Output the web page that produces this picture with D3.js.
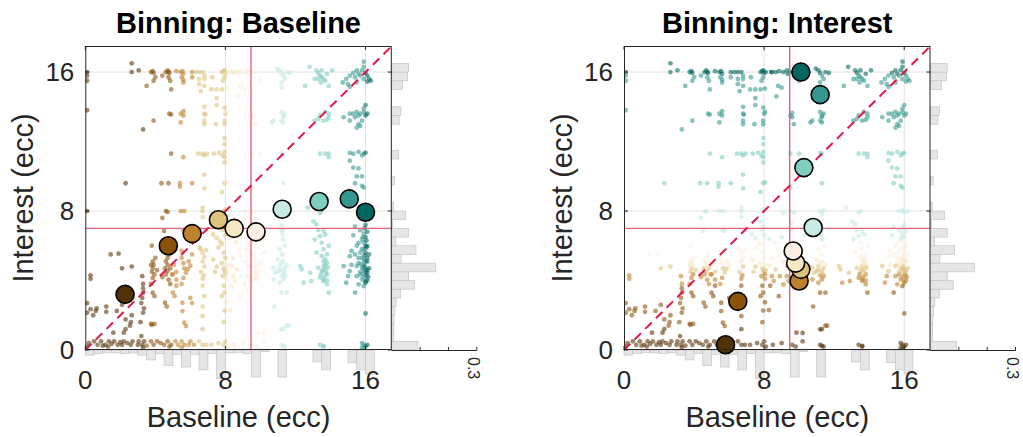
<!DOCTYPE html>
<html>
<head>
<meta charset="utf-8">
<script src="https://cdn.jsdelivr.net/npm/d3@7"></script>
<style>
  body { margin: 0; background: #fff; }
  svg { display: block; }
  text { font-family: "Liberation Sans", Arial, Helvetica, sans-serif; fill: #262626; }
</style>
</head>
<body>
<svg id="chart" width="1023" height="437"></svg>
<script>
// ---- axis setup ----
const axisMax = 17.5;
const tickValues = [0, 8, 16];
const histBinWidth = 0.5;
const histTicks = [0.1, 0.2, 0.3];
const histMax = 0.3;

// proportion of trials per 0.5-ecc bin (marginal histograms)
const baselineHist = [0.018, 0.012, 0.008, 0.010, 0.012, 0.010, 0.018, 0.035, 0.012, 0.055,
                      0.015, 0.060, 0.015, 0.070, 0.012, 0.100, 0.010, 0.008, 0.012, 0.095,
                      0.005, 0.000, 0.095, 0.000, 0.000, 0.000, 0.042, 0.070, 0.000, 0.000,
                      0.045, 0.070, 0.085, 0.000, 0.000];
const interestHist = [0.092, 0.007, 0.007, 0.008, 0.011, 0.015, 0.031, 0.080, 0.059, 0.155,
                      0.033, 0.085, 0.014, 0.059, 0.003, 0.049, 0.006, 0.000, 0.000, 0.009,
                      0.000, 0.000, 0.024, 0.000, 0.000, 0.000, 0.026, 0.032, 0.000, 0.000,
                      0.038, 0.056, 0.059, 0.000, 0.000];

// per-trial eccentricities: [baseline, interest]
const trials = [
  // interest around 16
  [0.1,16.0],[0.1,15.8],[0.1,15.5],[2.65,16.5],[2.65,16.0],[3.05,16.1],[3.5,15.2],[3.75,16.0],[3.85,16.05],[3.9,15.95],
  [3.9,15.5],[4.0,15.7],[4.4,15.8],[4.6,16.0],[4.7,16.1],[4.75,16.0],[4.8,15.95],[4.75,15.7],[4.85,15.5],[4.9,15.0],
  [5.2,16.05],[5.45,16.0],[5.55,16.05],[5.6,15.9],[5.5,15.7],[5.6,15.55],[5.6,15.4],[6.1,16.0],[6.3,16.0],[6.5,16.0],
  [6.7,16.0],[6.1,15.7],[6.5,15.6],[6.5,15.3],[6.6,14.9],[6.8,15.8],[6.8,15.6],[6.8,15.2],[7.25,15.7],[7.2,15.0],
  [7.5,15.0],[7.5,14.5],[7.5,14.1],[7.8,16.0],[7.9,16.05],[7.95,16.1],[8.0,15.95],[8.1,16.0],[7.95,15.7],[7.85,15.5],
  [7.8,15.0],[8.05,15.05],[8.4,16.0],[8.45,16.0],[8.65,16.0],[8.85,16.05],[9.1,16.0],[9.3,16.1],[9.35,15.9],[9.5,16.0],
  [10.0,15.5],[8.8,15.2],[9.0,15.1],[8.7,14.6],[10.95,16.2],[11.1,16.1],[11.2,15.95],[11.3,15.8],[11.5,16.0],[11.4,15.6],
  [11.2,15.4],[11.2,15.1],[11.7,15.95],[12.8,16.3],[12.55,15.2],[13.2,16.1],[13.3,15.95],[13.4,15.8],[13.5,15.7],[13.6,15.6],
  [13.7,15.5],[13.5,16.1],[13.8,15.9],[14.1,16.1],[13.3,15.6],[13.1,15.6],[13.9,15.2],[13.45,15.4],[14.7,15.4],[14.9,15.6],
  [15.1,15.8],[15.3,15.95],[15.5,16.1],[15.6,15.9],[15.7,15.8],[15.8,16.1],[15.9,16.3],[16.0,15.95],[16.1,15.8],[16.2,15.6],
  [15.9,15.6],[15.5,15.4],[15.1,15.15],[15.0,15.3],[15.4,15.7],[16.1,15.45],[16.3,15.5],[15.9,16.6],[16.0,14.1],
  // interest around 13.5
  [0.1,13.8],[3.9,13.2],[3.3,12.7],[4.8,13.6],[4.9,13.55],[5.45,13.6],[5.6,13.5],[5.45,13.1],[5.6,13.75],[6.8,14.0],
  [6.8,13.6],[6.85,13.55],[6.8,13.2],[6.8,13.0],[7.45,13.0],[7.95,13.95],[8.0,13.6],[7.95,13.2],[7.95,13.0],[8.05,13.7],
  [9.6,13.65],[9.6,13.4],[9.5,13.5],[9.7,13.0],[10.65,13.1],[10.75,13.2],[11.2,13.7],[11.3,13.5],[11.3,13.4],[11.4,13.6],
  [11.2,13.2],[11.3,13.1],[13.1,13.2],[13.3,13.3],[13.4,13.5],[13.7,13.7],[13.9,13.6],[13.9,13.4],[13.6,13.2],[13.8,13.25],
  [15.1,13.2],[15.3,13.6],[15.5,13.7],[15.6,13.5],[15.7,13.6],[15.9,13.7],[16.0,13.5],[16.1,13.6],[15.8,13.2],[15.6,13.0],
  [15.5,12.8],[15.7,12.9],[15.9,13.9],[15.1,13.6],[15.4,13.4],[14.75,13.4],
  // interest around 11.3 and 9.6
  [4.9,11.3],[5.6,11.1],[6.45,11.3],[6.7,11.3],[6.8,11.2],[6.95,11.3],[7.35,11.3],[7.65,11.35],[7.85,11.2],[7.95,11.4],
  [7.95,11.1],[7.95,10.8],[7.95,11.85],[7.95,12.2],[6.8,10.1],[9.5,11.3],[10.0,11.3],[11.2,11.35],[11.3,11.3],[13.4,11.3],
  [13.7,11.3],[13.9,11.3],[13.9,11.1],[15.1,11.35],[15.3,11.3],[15.9,11.3],[16.0,11.35],[15.8,11.2],[15.6,11.4],[15.1,10.9],
  [15.3,10.5],[15.6,10.45],[15.5,10.0],[15.8,10.0],[15.4,9.6],[15.8,9.45],[15.9,9.35],
  [2.3,9.6],[4.35,9.6],[4.75,9.6],[5.4,9.6],[5.4,9.4],[6.1,9.6],[6.8,9.3],[7.95,9.6],[8.05,9.65],[7.8,9.1],
  [9.5,9.35],[11.3,9.6],
  // interest around 8 and 7
  [0.1,8.0],[4.6,8.0],[4.7,7.95],[5.45,8.0],[5.65,8.0],[6.7,8.0],[4.4,7.6],[6.7,7.65],[6.7,8.2],[7.9,8.0],
  [8.0,8.1],[9.1,7.9],[9.5,8.0],[9.7,7.9],[11.2,8.0],[11.3,7.8],[11.4,8.05],[12.7,8.2],[13.5,8.0],[13.4,7.9],
  [15.7,8.0],[15.9,8.05],[16.0,7.9],[16.2,8.0],[7.4,7.4],[7.8,7.4],[7.95,7.1],[7.85,6.9],[9.56,7.33],[9.56,6.95],
  [11.2,7.2],[11.3,6.9],[13.03,7.4],[13.2,7.23],[15.4,7.1],[15.7,6.9],
  // low baseline, dark brown
  [0.3,4.1],[0.3,4.3],[0.1,2.7],[0.3,2.35],[0.1,2.15],[0.6,2.25],[1.2,2.5],[1.2,2.2],[1.45,5.5],[1.8,2.25],
  [2.1,2.6],[2.3,1.76],[2.6,1.6],[1.6,1.0],[2.2,1.0],[2.3,1.2],[2.1,4.7],[2.65,4.8],[3.2,0.8],[1.9,5.55],
  [0.65,2.4],[0.45,2.0],[2.65,2.0],[2.55,1.4],[3.8,1.45],
  [3.25,4.25],[3.3,3.8],[3.3,3.3],[3.2,2.7],[3.35,2.4],[3.3,2.15],[3.15,1.6],[3.3,3.55],[3.25,3.0],
  // baseline 3.8 - 5.2
  [3.85,5.1],[3.9,4.9],[3.85,4.7],[3.8,4.5],[3.95,4.35],[3.85,4.15],[3.75,4.9],[3.85,3.3],[3.75,3.8],[3.95,3.1],
  [3.75,1.5],[3.95,1.5],[3.8,6.0],[4.0,5.3],[4.1,4.6],[4.6,5.1],[4.7,4.9],[4.85,4.7],[4.7,4.55],[4.6,4.35],
  [4.95,4.35],[4.75,4.05],[4.85,3.8],[4.55,2.72],[4.65,2.5],[4.5,6.85],[4.7,5.3],[4.8,5.5],[4.55,4.7],[4.4,4.2],
  [5.07,4.9],[5.2,4.5],[5.0,4.35],[5.2,4.05],[5.0,3.3],[5.1,3.1],[5.2,3.7],
  // baseline 5.5 - 6.9
  [5.5,5.3],[5.6,5.0],[5.65,4.7],[5.75,4.45],[5.6,4.15],[5.5,3.8],[5.9,5.1],[6.0,4.85],[5.85,4.65],[5.55,2.72],
  [5.55,2.24],[5.65,1.57],[5.75,1.38],[6.0,3.0],[6.1,2.7],[5.6,6.9],[5.75,6.85],[5.5,5.7],[6.1,5.5],
  [6.6,5.8],[6.7,5.6],[6.8,5.35],[6.7,5.1],[6.8,4.8],[6.6,4.5],[6.7,4.1],[6.7,3.7],[6.8,3.1],[6.7,2.5],
  [6.7,1.95],[6.7,1.2],[6.5,5.9],[6.9,5.75],[6.75,4.3],
  // baseline 7.3 - 8.5
  [7.3,6.65],[7.5,6.45],[7.7,6.25],[7.6,5.9],[7.8,6.1],[7.3,5.2],[7.5,4.8],[7.4,4.5],
  [7.8,5.0],[7.9,4.7],[8.0,4.45],[8.05,4.1],[7.9,3.7],[7.8,3.1],[8.05,2.75],[7.95,2.27],[7.9,1.6],[8.0,5.3],
  [7.9,5.6],[8.1,4.9],[8.0,6.6],[7.95,3.3],[8.35,4.85],[8.45,4.25],[8.35,3.7],
  [7.95,4.55],[8.05,4.35],[7.85,4.25],[8.1,4.6],
  // baseline 8.3 - 10.3
  [8.46,5.3],[8.84,5.4],[9.1,5.1],[9.3,4.83],[9.6,4.73],[9.7,4.44],[9.8,4.06],[9.4,3.97],[9.1,3.77],[8.65,4.64],
  [8.9,4.25],[9.2,5.8],[9.6,5.5],[8.55,3.97],[9.7,5.1],[9.8,4.83],[9.3,4.25],[8.84,3.1],[8.27,2.3],[9.5,6.2],
  [9.7,6.0],[9.9,5.9],[9.6,5.3],[10.0,5.0],[9.9,4.6],[9.6,4.1],[9.8,4.3],[10.1,6.3],[10.2,5.6],[9.5,4.9],
  [8.3,6.4],[8.6,6.2],[9.0,6.5],[9.3,6.1],[8.8,5.8],[9.5,5.6],[10.3,6.6],[9.75,4.5],[9.65,4.2],
  // baseline around 11.2
  [11.25,6.65],[11.3,6.36],[11.1,5.8],[11.25,5.5],[11.3,5.1],[11.1,4.83],[11.4,4.73],[11.3,4.54],[11.0,4.54],[10.75,4.73],
  [10.84,4.44],[11.4,4.25],[11.3,4.06],[11.1,3.87],[11.2,3.3],[11.5,3.3],[10.75,4.06],[11.6,1.4],[11.2,1.19],[11.3,0.23],
  [11.2,6.9],[11.4,6.0],[11.0,5.2],[11.5,4.9],[11.2,4.3],[10.8,2.5],[11.5,1.4],[11.3,1.2],[10.2,0.98],[9.85,1.0],
  [11.1,4.6],[11.35,4.4],[11.2,5.0],
  // baseline around 13.5
  [13.6,6.85],[13.7,6.65],[13.4,6.55],[13.1,6.36],[13.5,6.17],[13.6,5.79],[13.2,5.6],[13.5,5.4],[13.7,5.21],[13.8,5.02],
  [13.6,4.83],[13.3,4.73],[13.7,4.64],[13.8,4.35],[13.4,4.16],[13.6,3.97],[13.8,3.78],[13.9,3.3],[12.27,4.83],[12.36,4.64],
  [12.84,4.44],[12.9,3.97],[12.46,3.87],[13.6,0.23],[13.7,4.9],[13.5,4.5],[13.65,4.2],[13.8,5.5],[13.9,6.0],[13.3,6.9],
  [13.8,4.0],[13.6,5.1],[13.55,4.6],[13.75,4.45],[13.45,4.35],[13.85,4.75],[13.6,4.05],
  // baseline around 16
  [15.9,6.7],[16.0,6.5],[15.8,6.36],[15.6,6.17],[16.1,5.98],[15.9,5.79],[15.7,5.6],[15.4,5.5],[15.1,5.4],[15.2,5.7],
  [15.8,5.3],[16.0,5.1],[15.6,5.0],[15.5,4.83],[15.8,4.73],[16.0,4.64],[16.1,4.44],[15.7,4.35],[15.5,4.25],[15.8,4.06],
  [16.0,3.87],[15.6,3.78],[15.9,3.68],[15.4,3.3],[14.75,4.83],[14.9,3.87],[15.1,4.54],[15.0,4.25],[16.2,5.5],[16.0,2.1],
  [16.0,7.2],[16.1,6.8],[15.9,6.2],[16.0,5.6],[16.1,5.3],[15.9,4.9],[16.0,4.5],[15.9,4.2],[16.1,4.0],[15.95,4.8],
  [16.05,5.9],[15.85,6.5],[16.2,4.7],[15.7,4.5],[15.6,5.3],[15.5,6.0],[15.3,6.6],[15.2,4.9],[16.15,4.2],[15.9,5.2],
  [16.0,6.0],[16.1,4.6],[15.8,5.8],[15.95,7.0],[15.85,4.4],[16.05,4.3],[15.95,5.45],[16.1,5.1],[15.75,4.95],[16.0,3.95],
  [15.9,4.65],[16.05,6.3],
  // interest near 0
  [0.1,0.2],[0.2,0.4],[0.5,0.5],[0.9,0.5],[1.15,0.3],[1.35,0.5],[1.65,0.5],[1.85,0.3],[2.1,0.3],[2.2,0.5],
  [2.6,0.3],[2.7,0.5],[3.05,0.5],[3.25,0.3],[3.35,0.5],[3.75,0.5],[3.9,0.3],[4.1,0.5],[4.5,0.3],[4.7,0.5],
  [4.9,0.3],[5.15,0.5],[5.5,0.5],[5.65,0.3],[6.0,0.5],[6.2,0.3],[6.7,0.3],[6.9,0.3],[7.9,0.3],[8.0,0.5],
  [8.1,0.2],[7.6,0.4],[7.2,0.3],[2.4,0.4],[3.0,0.3],[1.0,0.25],[1.5,0.35],[3.5,0.25],[4.3,0.4],[5.3,0.3],
  [5.9,0.3],[6.5,0.5],[0.7,0.3],[1.3,0.2],[2.0,0.45],[4.8,0.2],[5.5,0.15],[3.3,0.15],[8.5,0.3],[9.0,0.4],
  [9.6,0.3],[9.8,0.2],[10.2,0.5],[11.2,0.3],[11.4,0.2],[13.4,0.3],[13.6,0.2],[15.9,0.3],[16.0,0.2],[16.1,0.3],
  [15.8,0.4],[15.8,0.13],[15.9,0.05]
];

// ten bins, brown-to-teal
const binColors = ["#543005", "#8c510a", "#bf812d", "#dfc27d", "#f6e8c3",
                   "#fbefe4", "#c7eae5", "#80cdc1", "#35978f", "#01665e"];
const baselineEdges = [3.45, 4.95, 6.3, 8.02, 8.7, 10.5, 12.2, 14.6, 15.92];
const interestEdges = [1.3, 3.75, 4.4, 4.85, 5.3, 6.35, 8.6, 12.5, 15.85];

// bin means [baseline, interest]
const baselineBinMeans = [[2.27,3.2],[4.74,6.0],[6.1,6.7],[7.6,7.5],[8.5,7.0],
                          [9.75,6.8],[11.24,8.1],[13.35,8.55],[15.07,8.7],[16.0,7.93]];
const interestBinMeans = [[5.8,0.3],[6.5,2.8],[10.0,3.97],[10.1,4.64],[9.8,5.0],
                          [9.66,5.7],[10.8,7.05],[10.27,10.5],[11.2,14.7],[10.1,16.0]];

const meanBaseline = 9.46;
const meanInterest = 7.0;

const panels = [
  { title: "Binning: Baseline", left: 85.3, means: baselineBinMeans,
    bin: d => d3.bisectRight(baselineEdges, d[0]) },
  { title: "Binning: Interest", left: 624, means: interestBinMeans,
    bin: d => d3.bisectRight(interestEdges, d[1]) }
];

const plotW = 306.5, plotTop = 46, plotBottom = 350;
const svg = d3.select("#chart");
const hLen = d3.scaleLinear().domain([0, histMax]).range([0, 85]);

panels.forEach((p, pi) => {
  const x = d3.scaleLinear().domain([0, axisMax]).range([p.left, p.left + plotW]);
  const y = d3.scaleLinear().domain([0, axisMax]).range([plotBottom, plotTop]);
  const g = svg.append("g");
  const right = p.left + plotW;

  // grid
  g.append("g").selectAll("line").data(tickValues.filter(t => t > 0)).join("line")
    .attr("x1", d => x(d)).attr("x2", d => x(d)).attr("y1", plotTop).attr("y2", plotBottom)
    .attr("stroke", "#e3e3e3").attr("stroke-width", 1);
  g.append("g").selectAll("line").data(tickValues.filter(t => t > 0)).join("line")
    .attr("y1", d => y(d)).attr("y2", d => y(d)).attr("x1", p.left).attr("x2", right)
    .attr("stroke", "#e3e3e3").attr("stroke-width", 1);

  // marginal histograms
  const bins = d3.range(baselineHist.length);
  g.append("g").selectAll("rect").data(bins.filter(i => baselineHist[i] > 0)).join("rect")
    .attr("x", i => x(i * histBinWidth)).attr("width", i => x((i + 1) * histBinWidth) - x(i * histBinWidth))
    .attr("y", plotBottom).attr("height", i => hLen(baselineHist[i]))
    .attr("fill", "#e6e6e6").attr("stroke", "#c4c4c4").attr("stroke-width", 0.7);
  g.append("g").selectAll("rect").data(bins.filter(i => interestHist[i] > 0)).join("rect")
    .attr("y", i => y((i + 1) * histBinWidth)).attr("height", i => y(i * histBinWidth) - y((i + 1) * histBinWidth))
    .attr("x", right).attr("width", i => hLen(interestHist[i]))
    .attr("fill", "#e6e6e6").attr("stroke", "#c4c4c4").attr("stroke-width", 0.7);

  // histogram scale axis
  g.append("line").attr("x1", right).attr("x2", right + hLen(histMax))
    .attr("y1", plotBottom + 0.5).attr("y2", plotBottom + 0.5).attr("stroke", "#262626").attr("stroke-width", 1);
  g.append("g").selectAll("line").data(histTicks).join("line")
    .attr("x1", d => right + hLen(d)).attr("x2", d => right + hLen(d))
    .attr("y1", plotBottom + 0.5).attr("y2", plotBottom - 3).attr("stroke", "#262626").attr("stroke-width", 1);
  g.append("text").attr("transform", `translate(${right + hLen(histMax) - 3},${plotBottom + 7}) rotate(90)`)
    .attr("dominant-baseline", "central").attr("font-size", 16).text(histMax.toFixed(1));

  // trials
  const clipId = "clip" + pi;
  svg.append("clipPath").attr("id", clipId).append("rect")
    .attr("x", p.left).attr("y", plotTop).attr("width", plotW).attr("height", plotBottom - plotTop);
  g.append("g").attr("clip-path", `url(#${clipId})`).selectAll("circle").data(trials).join("circle")
    .attr("cx", d => x(d[0])).attr("cy", d => y(d[1])).attr("r", 2.4)
    .attr("fill", d => binColors[p.bin(d)]).attr("fill-opacity", 0.58);

  // mean lines
  g.append("line").attr("x1", x(meanBaseline)).attr("x2", x(meanBaseline)).attr("y1", plotTop).attr("y2", plotBottom)
    .attr("stroke", "#e8607a").attr("stroke-width", 1.4);
  g.append("line").attr("x1", p.left).attr("x2", right).attr("y1", y(meanInterest)).attr("y2", y(meanInterest))
    .attr("stroke", "#e8607a").attr("stroke-width", 1.4);

  // identity line
  g.append("line").attr("x1", x(0)).attr("y1", y(0)).attr("x2", x(axisMax)).attr("y2", y(axisMax))
    .attr("stroke", "#e3164a").attr("stroke-width", 2).attr("stroke-dasharray", "9,6");

  // bin means
  g.append("g").selectAll("circle").data(p.means).join("circle")
    .attr("cx", d => x(d[0])).attr("cy", d => y(d[1])).attr("r", 9)
    .attr("fill", (d, i) => binColors[i]).attr("stroke", "#000").attr("stroke-width", 1.6);

  // box + ticks
  g.append("rect").attr("x", p.left + 0.5).attr("y", plotTop + 0.5).attr("width", plotW - 1).attr("height", plotBottom - plotTop - 1)
    .attr("fill", "none").attr("stroke", "#262626").attr("stroke-width", 1);
  const tk = 4;
  tickValues.forEach(t => {
    g.append("line").attr("x1", x(t)).attr("x2", x(t)).attr("y1", plotBottom).attr("y2", plotBottom - tk).attr("stroke", "#262626");
    g.append("line").attr("x1", x(t)).attr("x2", x(t)).attr("y1", plotTop).attr("y2", plotTop + tk).attr("stroke", "#262626");
    g.append("line").attr("y1", y(t)).attr("y2", y(t)).attr("x1", p.left).attr("x2", p.left + tk).attr("stroke", "#262626");
    g.append("line").attr("y1", y(t)).attr("y2", y(t)).attr("x1", right).attr("x2", right - tk).attr("stroke", "#262626");
  });

  // tick labels
  g.append("g").selectAll("text").data(tickValues).join("text")
    .attr("x", d => x(d)).attr("y", 389).attr("text-anchor", "middle").attr("font-size", 26).text(d => d);
  g.append("g").selectAll("text").data(tickValues).join("text")
    .attr("x", p.left - 11).attr("y", d => y(d)).attr("dy", "0.35em").attr("text-anchor", "end")
    .attr("font-size", 26).text(d => d);

  // labels
  g.append("text").attr("x", (p.left + right) / 2).attr("y", 427).attr("text-anchor", "middle")
    .attr("font-size", 29).text("Baseline (ecc)");
  g.append("text").attr("transform", `translate(${p.left - 52},${(plotTop + plotBottom) / 2}) rotate(-90)`)
    .attr("text-anchor", "middle").attr("font-size", 29).text("Interest (ecc)");
  g.append("text").attr("x", (p.left + right) / 2).attr("y", 33).attr("text-anchor", "middle")
    .attr("font-size", 29).attr("font-weight", "bold").style("fill", "#000").text(p.title);
});
</script>
</body>
</html>
